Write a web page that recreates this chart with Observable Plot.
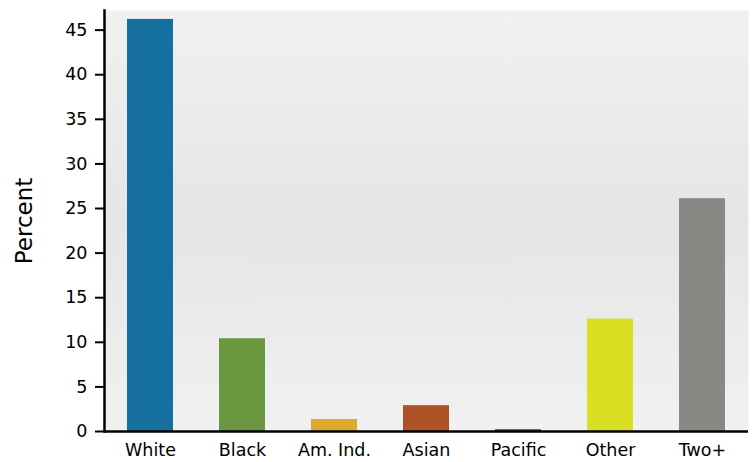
<!DOCTYPE html>
<html>
<head>
<meta charset="utf-8">
<script src="https://cdn.jsdelivr.net/npm/d3@7"></script>
<script src="https://cdn.jsdelivr.net/npm/@observablehq/plot@0.6"></script>
<style>
  html, body { margin: 0; padding: 0; background: #fff; }
  svg { display: block; }
</style>
</head>
<body>
<div id="chart"></div>
<script>
const categories = ["White", "Black", "Am. Ind.", "Asian", "Pacific", "Other", "Two+"];
const percents = [46.2, 10.4, 1.35, 2.9, 0.2, 12.6, 26.1];
const colors = ["#16709f", "#6a9840", "#dda82c", "#ad5327", "#2f5c2a", "#d9e021", "#888884"];
const yTicks = [0, 5, 10, 15, 20, 25, 30, 35, 40, 45];

const data = categories.map((c, i) => ({category: c, value: percents[i], color: colors[i]}));

const chart = Plot.plot({
  width: 752,
  height: 462,
  marginLeft: 104,
  marginRight: 4,
  marginTop: 10,
  marginBottom: 31,
  style: {fontFamily: "'DejaVu Sans', Verdana, sans-serif", fontSize: "17.5px", color: "#000", background: "#fff"},
  x: {domain: categories, paddingInner: 0.5, paddingOuter: 0.25, label: null},
  y: {domain: [0, 47.2], label: null},
  marks: [
    Plot.frame({fill: "url(#bggrad)", stroke: null}),
    Plot.barY(data, {x: "category", y: "value", fill: "color"}),
    Plot.axisY({ticks: yTicks, tickSize: 9, tickPadding: 8, strokeWidth: 2, label: null, fontSize: 17.5}),
    Plot.axisX({tickSize: 0, tickPadding: 12, label: null, fontSize: 17.5}),
    Plot.ruleY([0], {stroke: "#000", strokeWidth: 2.5}),
    Plot.frame({anchor: "left", stroke: "#000", strokeWidth: 2.5}),
    Plot.text(["Percent"], {frameAnchor: "left", dx: -80, rotate: -90, fontSize: 23, fill: "#000", textAnchor: "middle"})
  ]
});

const svg = d3.select(chart);
const defs = svg.insert("defs", ":first-child");
const grad = defs.append("linearGradient").attr("id", "bggrad").attr("x1", 0).attr("y1", 0).attr("x2", 0).attr("y2", 1);
grad.append("stop").attr("offset", "0%").attr("stop-color", "#f1f1f1");
grad.append("stop").attr("offset", "50%").attr("stop-color", "#e5e5e5");
grad.append("stop").attr("offset", "100%").attr("stop-color", "#f1f1f1");

document.getElementById("chart").appendChild(chart);
</script>
</body>
</html>
